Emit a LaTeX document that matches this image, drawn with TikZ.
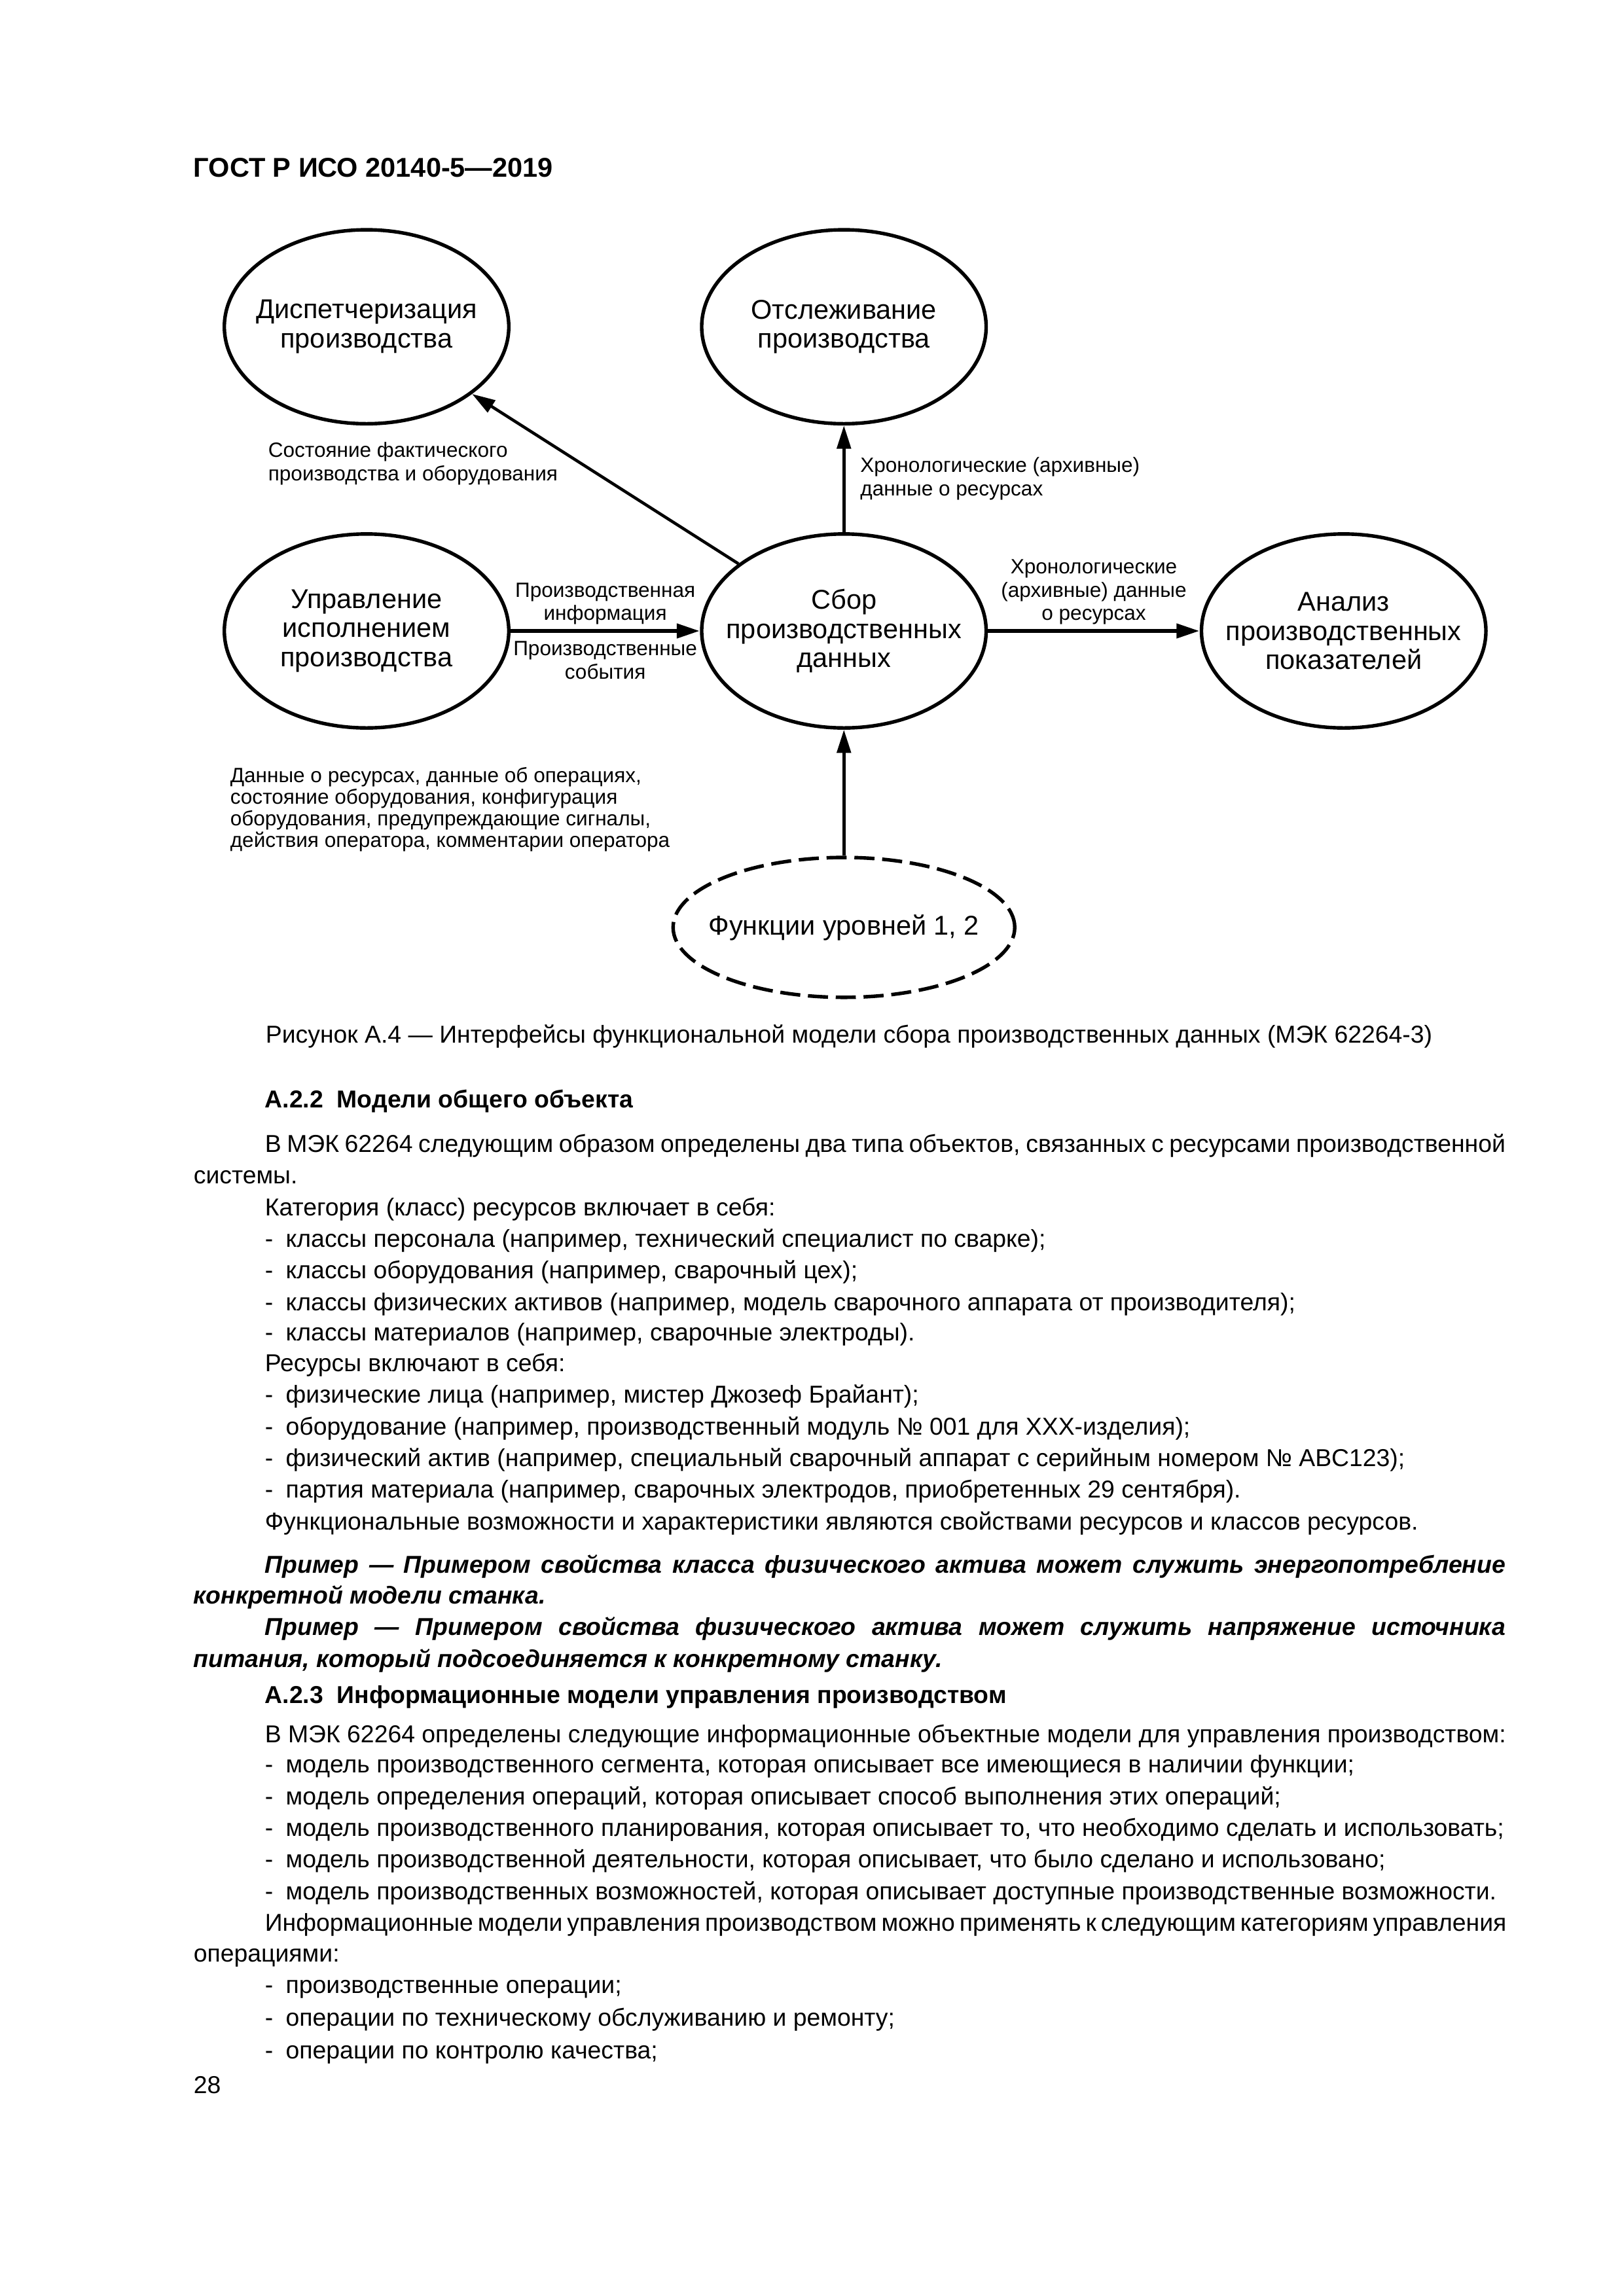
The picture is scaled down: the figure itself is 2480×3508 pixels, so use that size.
\documentclass[tikz,border=0pt]{standalone}
\usepackage{fontspec}
\setmainfont{Liberation Sans}
\usetikzlibrary{arrows.meta,positioning,shapes.geometric}

\newcommand\bodysize{\fontsize{9}{11.5}\selectfont}
\newcommand\labelsize{\fontsize{7.6}{8.6}\selectfont}
\newcommand\circlesize{\fontsize{10}{10.8}\selectfont}
\newcommand\fullline[1]{\makebox[160.5mm][s]{#1}}
\newcommand\itemline[1]{\makebox[2.7mm][l]{-}#1}

\tikzset{
  procnode/.style={ellipse,draw,line width=1.3pt,minimum width=36.8mm,
    minimum height=25.1mm,inner sep=0pt},
  levelnode/.style={procnode,dash pattern=on 2.6mm off 1mm,
    minimum width=44.2mm,minimum height=18.1mm},
  circletext/.style={align=center,font=\circlesize,inner sep=0pt},
  flowlabel/.style={align=center,font=\labelsize,inner sep=3pt},
  flowarrow/.style={-{Triangle[length=3mm,width=1.8mm]},line width=1.1pt},
  mainarrow/.style={flowarrow,line width=1.6pt},
  bodyline/.style={anchor=base west,inner sep=0pt,font=\bodysize},
  sectionline/.style={bodyline,font=\bodysize\bfseries},
  exampleline/.style={bodyline,font=\bodysize\bfseries\itshape}
}

\begin{document}
\begin{tikzpicture}[x=0.08468mm,y=-0.08468mm]
  \useasboundingbox (0,0) rectangle (2480,3508);
  \node[bodyline,font=\fontsize{10}{12}\selectfont\bfseries] (gost) at (295,270) {ГОСТ Р ИСО 20140-5—2019};

  % figure A.4
  \node[procnode] (upr) at (560,964) {};
  \node[procnode,right=24.5mm of upr] (sbor) {};
  \node[procnode,right=27.4mm of sbor] (anal) {};
  \node[procnode,above=13.8mm of upr] (disp) {};
  \node[procnode,above=13.8mm of sbor] (track) {};
  \node[levelnode,below=16.3mm of sbor] (func) {};

  \node[circletext] (disptext) at (disp) {Диспетчеризация\\производства};
  \node[circletext] (tracktext) at (track) {Отслеживание\\производства};
  \node[circletext] (uprtext) at (upr) {Управление\\исполнением\\производства};
  \node[circletext] (sbortext) at (sbor) {Сбор\\производственных\\данных};
  \node[circletext] (analtext) at (anal) {Анализ\\производственных\\показателей};
  \node[circletext] (functext) at (func) {Функции уровней 1, 2};

  \draw[flowarrow] (sbor) -- (disp);
  \draw[flowarrow] (sbor) -- (track)
    node[midway,right,flowlabel,align=left,inner xsep=5.5pt] (tracklabel) {Хронологические (архивные)\\данные о ресурсах};
  \draw[mainarrow] (upr) -- (sbor)
    node[midway,above,flowlabel,inner ysep=1.5pt] (infolabel) {Производственная\\информация}
    node[midway,below,flowlabel] (eventlabel) {Производственные\\события};
  \draw[mainarrow] (sbor) -- (anal)
    node[midway,above,flowlabel,inner ysep=1.5pt] (histlabel) {Хронологические\\(архивные) данные\\о ресурсах};
  \draw[flowarrow] (func) -- (sbor);

  \node[flowlabel,align=left,anchor=north west,inner sep=0pt] (statelabel) at (409,675)
    {Состояние фактического\\производства и оборудования};
  \node[flowlabel,align=left,anchor=north west,inner sep=0pt,font=\fontsize{7.6}{7.9}\selectfont] (datalabel) at (351,1172)
    {Данные о ресурсах, данные об операциях,\\состояние оборудования, конфигурация\\оборудования, предупреждающие сигналы,\\действия оператора, комментарии оператора};

  \node[bodyline,anchor=base] (caption) at (1297,1593)
    {Рисунок А.4 — Интерфейсы функциональной модели сбора производственных данных (МЭК 62264-3)};

  % A.2.2
  \node[sectionline] (sec22) at (404,1692) {А.2.2\ \ Модели общего объекта};
  \node[bodyline] (b01) at (404,1760) {\fullline{В МЭК 62264 следующим образом определены два типа объектов, связанных с ресурсами производственной}};
  \node[bodyline] (b02) at (295,1808) {системы.};
  \node[bodyline] (b03) at (404,1857) {Категория (класс) ресурсов включает в себя:};
  \node[bodyline] (b04) at (404,1905) {\itemline{классы персонала (например, технический специалист по сварке);}};
  \node[bodyline] (b05) at (404,1953) {\itemline{классы оборудования (например, сварочный цех);}};
  \node[bodyline] (b06) at (404,2002) {\itemline{классы физических активов (например, модель сварочного аппарата от производителя);}};
  \node[bodyline] (b07) at (404,2048) {\itemline{классы материалов (например, сварочные электроды).}};
  \node[bodyline] (b08) at (404,2095) {Ресурсы включают в себя:};
  \node[bodyline] (b09) at (404,2143) {\itemline{физические лица (например, мистер Джозеф Брайант);}};
  \node[bodyline] (b10) at (404,2192) {\itemline{оборудование (например, производственный модуль № 001 для XXX-изделия);}};
  \node[bodyline] (b11) at (404,2240) {\itemline{физический актив (например, специальный сварочный аппарат с серийным номером № ABC123);}};
  \node[bodyline] (b12) at (404,2288) {\itemline{партия материала (например, сварочных электродов, приобретенных 29 сентября).}};
  \node[bodyline] (b13) at (404,2337) {Функциональные возможности и характеристики являются свойствами ресурсов и классов ресурсов.};
  \node[exampleline] (e01) at (404,2403) {\fullline{Пример — Примером свойства класса физического актива может служить энергопотребление}};
  \node[exampleline] (e02) at (295,2450) {конкретной модели станка.};
  \node[exampleline] (e03) at (404,2498) {\fullline{Пример — Примером свойства физического актива может служить напряжение источника}};
  \node[exampleline] (e04) at (295,2547) {питания, который подсоединяется к конкретному станку.};

  % A.2.3
  \node[sectionline] (sec23) at (404,2602) {А.2.3\ \ Информационные модели управления производством};
  \node[bodyline] (c01) at (404,2662) {В МЭК 62264 определены следующие информационные объектные модели для управления производством:};
  \node[bodyline] (c02) at (404,2708) {\itemline{модель производственного сегмента, которая описывает все имеющиеся в наличии функции;}};
  \node[bodyline] (c03) at (404,2757) {\itemline{модель определения операций, которая описывает способ выполнения этих операций;}};
  \node[bodyline] (c04) at (404,2805) {\itemline{модель производственного планирования, которая описывает то, что необходимо сделать и использовать;}};
  \node[bodyline] (c05) at (404,2853) {\itemline{модель производственной деятельности, которая описывает, что было сделано и использовано;}};
  \node[bodyline] (c06) at (404,2902) {\itemline{модель производственных возможностей, которая описывает доступные производственные возможности.}};
  \node[bodyline] (c07) at (404,2950) {\fullline{Информационные модели управления производством можно применять к следующим категориям управления}};
  \node[bodyline] (c08) at (295,2997) {операциями:};
  \node[bodyline] (c09) at (404,3045) {\itemline{производственные операции;}};
  \node[bodyline] (c10) at (404,3095) {\itemline{операции по техническому обслуживанию и ремонту;}};
  \node[bodyline] (c11) at (404,3145) {\itemline{операции по контролю качества;}};
  \node[bodyline] (pagenum) at (295,3198) {28};
\end{tikzpicture}
\end{document}
